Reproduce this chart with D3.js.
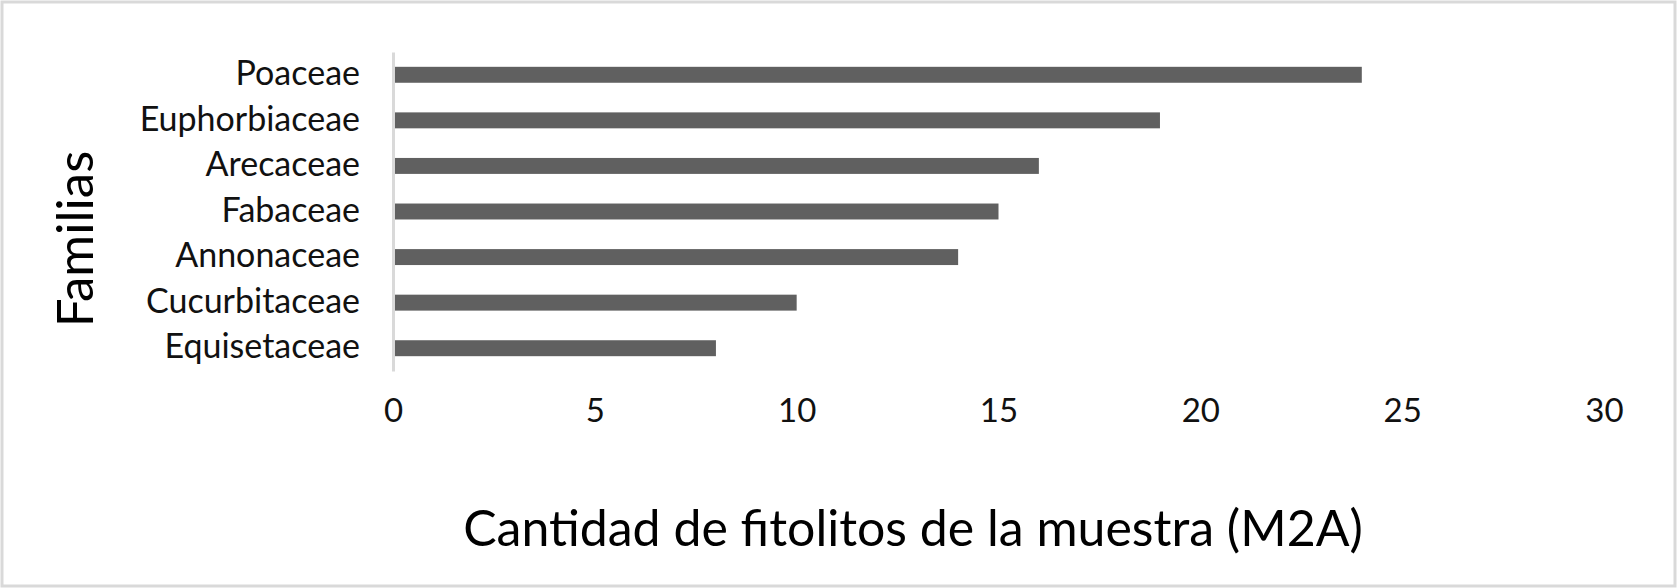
<!DOCTYPE html>
<html>
<head>
<meta charset="utf-8">
<script src="https://cdn.jsdelivr.net/npm/d3@7"></script>
<style>
  body { margin: 0; background: #fff; }
  text { font-family: Lato, "Open Sans", sans-serif; }
</style>
</head>
<body>
<div id="chart"></div>
<script>
// data
const families = ["Poaceae", "Euphorbiaceae", "Arecaceae", "Fabaceae", "Annonaceae", "Cucurbitaceae", "Equisetaceae"];
const counts = [24, 19, 16, 15, 14, 10, 8];
const xTicks = [0, 5, 10, 15, 20, 25, 30];

const W = 1677, H = 588;
const margin = {top: 52, right: 73, bottom: 217, left: 393};
const width = W - margin.left - margin.right,
      height = H - margin.top - margin.bottom;

const svg = d3.select("#chart").append("svg")
    .attr("width", W)
    .attr("height", H);

// chart border
svg.append("rect")
    .attr("x", 2).attr("y", 2)
    .attr("width", W - 4).attr("height", H - 4)
    .attr("fill", "#fff")
    .attr("stroke", "#d9d9d9")
    .attr("stroke-width", 3);

const g = svg.append("g")
    .attr("transform", "translate(" + margin.left + "," + margin.top + ")");

const x = d3.scaleLinear().domain([0, 30]).range([0, width]);
const y = d3.scaleBand().domain(families).range([0, height]).paddingInner(0.65).paddingOuter(0.325);

// bars
g.selectAll("rect.bar").data(families)
  .enter().append("rect")
    .attr("class", "bar")
    .attr("x", x(0))
    .attr("y", d => y(d))
    .attr("width", (d, i) => x(counts[i]) - x(0))
    .attr("height", y.bandwidth())
    .attr("fill", "#606060");

// y axis (category labels + light line)
const yAxis = g.append("g")
    .call(d3.axisLeft(y).tickSize(0).tickPadding(33));
yAxis.select(".domain").attr("stroke", "#d9d9d9").attr("stroke-width", 3);
yAxis.selectAll("text")
    .attr("font-size", 34)
    .attr("fill", "#111")
    .attr("dy", "0.3em");

// x axis labels, no line
const xAxis = g.append("g")
    .attr("transform", "translate(0," + height + ")")
    .call(d3.axisBottom(x).tickValues(xTicks).tickSize(0).tickPadding(28));
xAxis.select(".domain").remove();
xAxis.selectAll("text")
    .attr("font-size", 33)
    .attr("fill", "#111");

// axis titles
svg.append("text")
    .attr("x", 913)
    .attr("y", 546)
    .attr("text-anchor", "middle")
    .attr("font-size", 50)
    .attr("fill", "#000")
    .text("Cantidad de fitolitos de la muestra (M2A)");

svg.append("text")
    .attr("transform", "translate(93,239) rotate(-90)")
    .attr("text-anchor", "middle")
    .attr("font-size", 51)
    .attr("fill", "#000")
    .text("Familias");
</script>
</body>
</html>
